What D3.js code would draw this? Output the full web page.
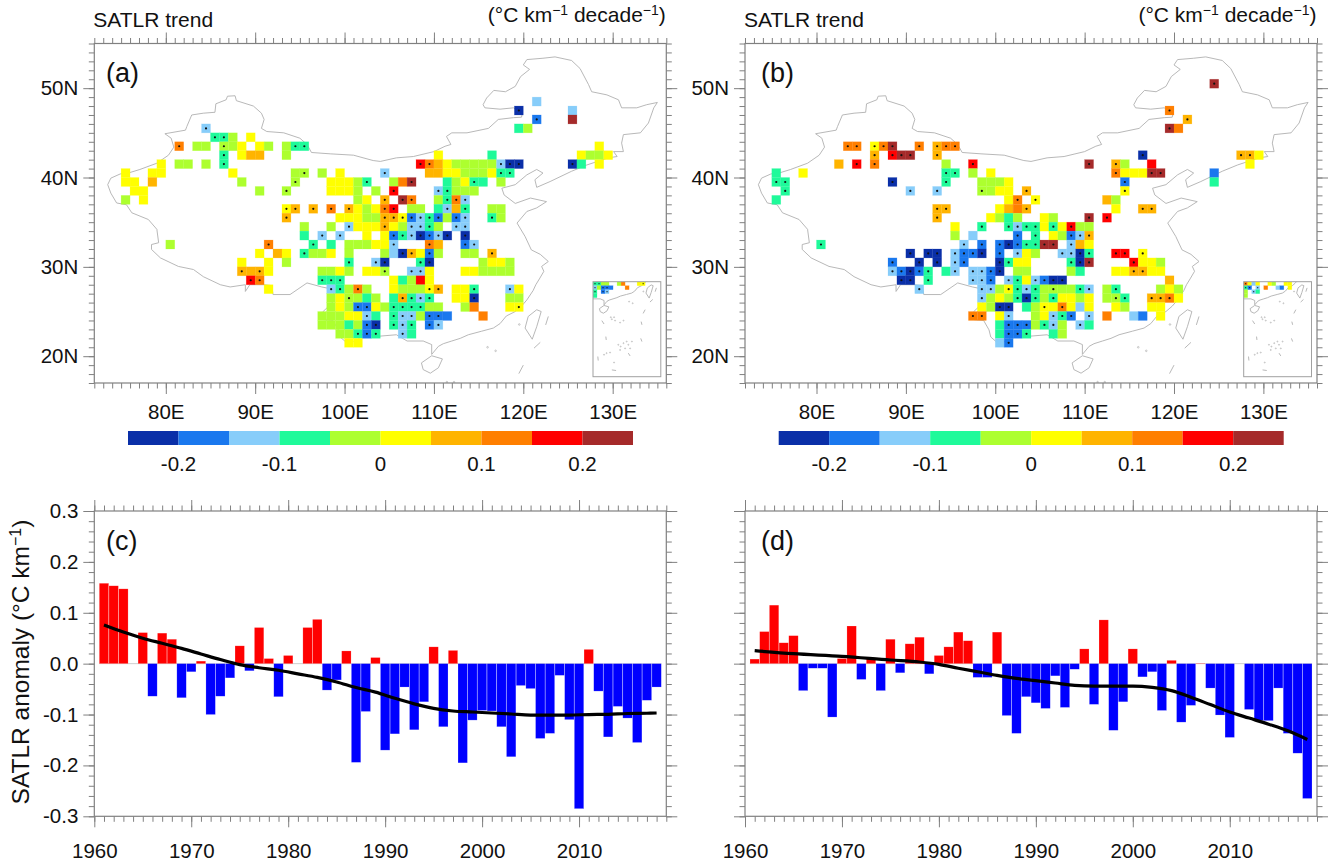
<!DOCTYPE html>
<html>
<head>
<meta charset="utf-8">
<script src="https://cdn.jsdelivr.net/npm/d3@7"></script>
<style>
  body { margin: 0; background: white; }
  svg { display: block; font-family: "Liberation Sans", Arial, sans-serif; }
  text { fill: #111; }
</style>
</head>
<body>
<svg id="chart" width="1335" height="864"></svg>
<script>
// trend classes, darkest blue (0) to brown (9)
const levelColors = ["#0a2fa8", "#1a78ee", "#87cdfa", "#1ffa9a", "#adff2f", "#ffff00", "#ffb400", "#ff7f00", "#ff0000", "#a52a2a"];
const levelEdges = [-0.25, -0.2, -0.15, -0.1, -0.05, 0, 0.05, 0.1, 0.15, 0.2, 0.25];
const levelLabels = [-0.2, -0.1, 0, 0.1, 0.2];

// grid rows: [south edge of the 1 degree cell, "lon.level"], * = significant
const rowsA = [
  [48, "121.2"],
  [47, "119.0* 125.2"],
  [46, "121.1* 125.9"],
  [45, "84.2* 119.3 120.4"],
  [44, "85.3* 86.3* 87.4 89.5"],
  [43, "81.7* 83.4 84.4 86.4* 87.4 88.5 90.5 91.4 93.4 94.3* 95.3* 128.5"],
  [42, "86.3* 88.5 89.6 90.6 93.4 110.5 116.3 126.5 127.4 128.4 129.5"],
  [41, "79.5 81.4 82.4 84.4 86.3* 108.8* 109.7* 110.6 111.5 112.4 113.4 114.4 115.4 116.4 117.2* 118.0* 119.0* 125.0* 126.3 128.5"],
  [40, "75.5 78.5 79.5 87.5 94.4 95.4* 97.4 99.5 104.2* 109.6 110.6 111.5 112.5 113.4 114.4 115.4 116.5 117.3* 118.3*"],
  [39, "75.5 76.5 78.6 88.4 94.4* 98.5 99.5 100.5 101.4 102.3* 105.4 106.7 107.9* 111.3 112.4 113.5 114.3* 115.3 117.4"],
  [38, "76.5 77.5 90.4 93.4* 98.5 99.5 100.5 101.4 103.4 105.8* 110.2* 111.3* 112.4 113.4 114.4"],
  [37, "75.4 77.5 101.4 102.5 104.6* 106.9* 107.7* 110.4 111.3* 112.7* 113.2*"],
  [36, "93.5* 94.6* 96.6* 98.7* 100.6* 101.5 102.4 103.5 104.7* 105.8* 107.4 108.4 110.3 111.2* 112.6 113.3* 116.4 117.4"],
  [35, "93.6* 99.5 100.5 101.5 102.4 103.4 104.6* 105.6* 106.5* 107.1* 108.2* 109.3* 110.1* 111.4 112.1* 113.2* 116.3* 117.4"],
  [34, "95.4 98.4 100.2* 101.5 102.5 103.5 104.6* 105.5 106.4 107.2* 108.2* 109.3* 110.4 112.2* 113.2*"],
  [33, "95.3 97.2* 99.2* 102.5 104.5 105.1* 106.3* 107.2* 108.0* 109.1* 110.2* 111.0* 113.0*"],
  [32, "80.4 91.7* 96.3* 98.3 100.4 101.4 102.4 103.5 104.5 105.2* 109.7* 110.6 113.1* 114.2*"],
  [31, "90.5 92.6 93.5 95.3* 96.4 97.4 98.5 100.4 104.4 105.2 106.0* 107.6* 108.5 109.1* 110.4 113.4 114.4 116.6*"],
  [30, "88.5 91.5 93.4 100.3* 103.2* 104.0* 108.3* 109.0* 115.4 116.5 117.5 118.4"],
  [29, "88.6* 89.6 90.6* 91.5 97.4 98.4 99.5 100.4 102.5 103.5 104.4* 107.2* 108.2* 109.5 113.5 114.5 115.4 116.4 117.4 118.4"],
  [28, "89.8* 90.7* 97.3* 98.3* 99.3* 105.5 106.3 107.4 108.8 109.5"],
  [27, "91.5 98.2* 99.3* 100.4 101.7* 102.4 105.5 106.4 107.4 108.4 109.5* 110.6* 112.5 113.5 114.3* 118.2* 119.5"],
  [26, "98.4 99.5 100.4* 101.4 102.3 103.4 105.3 106.6* 107.3* 108.2* 109.3* 112.5 113.5 114.0* 118.4 119.4"],
  [25, "98.4 99.5 100.4 101.1* 102.1* 103.5 104.4 105.3* 106.3* 107.3* 108.3* 109.4 110.4 113.4 114.7 118.5 119.5*"],
  [24, "97.4 98.4 99.4 100.5 101.5 102.2* 103.3 105.3* 106.2* 107.2* 108.4 109.1* 110.1* 111.1 115.7"],
  [23, "97.4 98.4 99.4 100.3 101.4 102.1* 103.0* 105.3* 106.2* 107.3* 109.1* 110.2*"],
  [22, "99.4 100.4 101.3* 102.1* 103.3* 106.2* 107.3"],
  [21, "100.5 101.5"]
];
const rowsB = [
  [50, "124.9*"],
  [47, "119.7*"],
  [46, "121.6*"],
  [45, "119.9* 120.7"],
  [43, "83.7* 84.7* 86.5* 87.7* 88.9* 91.7* 93.6* 94.7* 95.7*"],
  [42, "86.6* 88.8* 89.9* 90.9* 93.6* 116.0* 127.6* 128.6* 129.5"],
  [41, "82.6 84.8* 86.7* 94.4 97.8* 110.9* 113.6* 114.4 117.8 128.5"],
  [40, "75.3 78.5 94.3* 95.3* 97.4 99.5 113.7* 114.5 115.5 116.5 117.9* 118.9* 124.1"],
  [39, "75.3* 76.3* 88.0* 94.3* 98.4 99.4 100.4 101.5 114.1* 124.3"],
  [38, "76.3* 90.2* 93.2* 98.4* 99.4 100.5 101.5 103.6* 114.5*"],
  [37, "75.3 101.5 102.7* 104.5* 112.6 113.4"],
  [36, "93.6* 94.6* 100.5 101.6 102.7 103.6* 113.5 116.6* 117.6*"],
  [35, "93.6* 99.5 100.4 101.3 102.4 105.5 106.4 110.9* 112.8*"],
  [34, "95.5 98.3* 101.3* 102.2* 103.3* 104.3* 105.5 106.3* 107.5 108.8* 109.4 110.4"],
  [33, "95.4 97.2 102.1* 104.3* 106.5 107.4 108.1* 109.2* 110.6*"],
  [32, "80.3* 96.2* 98.1* 100.1* 101.0* 102.1* 103.3* 104.3* 105.9* 106.9* 108.2* 109.6 110.5"],
  [31, "90.0* 92.0* 93.0* 95.2* 96.1* 97.1* 98.0* 100.1* 102.2* 103.5 104.4 107.2* 108.2* 109.0* 110.3* 113.8* 114.8* 116.5*"],
  [30, "88.1* 91.0* 93.0* 95.2* 96.1* 100.0* 101.3* 102.5 103.5 108.3* 109.0* 110.9* 115.8* 116.5 117.5 118.4"],
  [29, "88.2* 89.1* 90.0* 91.1* 92.3* 94.3 95.2* 97.2* 98.2* 99.1* 100.0* 102.4 103.4 108.4 109.3 113.5 114.5 115.6* 116.6* 117.5 118.5"],
  [28, "89.0* 90.0* 92.3* 97.2* 98.2* 99.1* 101.2* 102.3* 103.5 104.2* 105.1* 106.0* 107.0* 119.6"],
  [27, "91.2* 98.2* 99.2* 100.4 101.5* 102.3* 103.2* 104.3* 105.4 106.4* 107.4 108.4 109.3* 110.2* 112.4 113.3* 118.4 119.5 120.4"],
  [26, "98.2* 99.4 100.5 101.4 102.3* 103.0* 104.3* 105.4 106.3* 107.5 108.5 109.4 110.5 112.4 113.4* 114.3* 117.6* 118.6* 119.7* 120.5"],
  [25, "98.5 99.4 100.0* 101.0* 103.3 104.4 105.5* 106.5 107.7* 108.5 109.2 110.5 113.5 114.4 117.5 118.5"],
  [24, "97.7* 98.7* 100.5 101.2* 104.4 105.5 106.2* 107.3* 108.1* 110.2* 112.7 115.2 116.1 118.5"],
  [23, "100.3 101.1* 102.1* 103.1* 104.4 105.3* 106.2* 107.4 109.2* 110.3"],
  [22, "100.3 101.1* 102.1* 103.3* 106.3 107.4"],
  [21, "100.2 101.1*"]
];

const chinaOutline = [
  [73.5,39.2],[73.85,39.93],[74.9,40.4],[75.8,40.5],[77.1,40.9],[79,41.6],[80.3,42.5],[80.9,43.4],[80.6,44.4],[79.9,44.9],
  [82.2,45.3],[82.35,45.7],[82.9,47],[84.2,47.2],[85.5,47.3],[85.6,48.25],[86.75,48.7],[86.9,49.1],[87.75,49.15],[87.9,48.6],
  [89.8,48],[90.7,47.2],[91,46.5],[90.7,45.5],[91.3,45.15],[93.2,45],[95,44.4],[95.8,43.7],[96.3,42.8],[98.4,42.65],
  [101,42.5],[103.2,41.9],[104,41.8],[105.8,42.2],[107.7,42.35],[110,42.9],[111.25,43.5],[111.9,43.7],[111.4,44.6],[112,45],
  [113.7,45],[116.1,45.5],[117.2,46.5],[118.9,46.7],[119.8,46.75],[119.9,47.2],[118.9,47.8],[117.4,47.65],[115.7,47.8],[115.5,48.15],
  [115.9,48.9],[116.7,49.75],[118,49.6],[119.1,50.2],[119.7,51.3],[120.7,52.1],[120,52.6],[120.4,53.2],[122.2,53.35],[123.55,53.5],
  [125.4,53.1],[126.35,52.2],[127.3,50.4],[127.65,49.6],[129.35,49.25],[130.65,48.7],[131,47.8],[132.7,47.8],[133.8,48.15],[135,48.4],
  [134.6,47.8],[134,46.1],[133.1,45],[131.2,44.8],[131,43.85],[131.2,42.9],[130.1,42.9],[130.5,42.35],[129.5,42.2],[127.1,41.4],
  [125.4,40.7],[123,39.55],[121.5,38.9],[121.3,39.75],[122.2,40.5],[121.5,40.9],[120.4,40.3],[119.1,39.2],[117.6,38.8],[117.85,38.05],
  [119.1,37.1],[120.8,37.7],[122.6,37.3],[121.5,36.6],[120.4,36.2],[119.3,34.9],[120.2,33.4],[120.9,31.9],[121.9,31.4],[122.8,30.6],
  [122.05,30.05],[122.3,29.5],[121.8,28.65],[121.4,28],[121.1,27.35],[120.4,26.3],[119.8,25.6],[119.1,25],[118.1,24.5],[117.4,23.65],
  [116.65,23.15],[115.35,22.8],[113.85,22.4],[112.95,22],[112,21.7],[111.05,21.4],[110.5,21.1],[109.75,20.2],
  [109.75,21.3],[108.8,21.7],[107,21.7],[105.8,22.4],[104,22.25],[103,22.4],[101.55,22.4],[101.75,21.2],[101,21.65],[100.25,21.5],
  [99.5,22.15],[99.3,22.95],[98.7,24],[97.6,24.1],[97.6,25],[98.6,25.95],[98.9,27.45],[97.45,27.75],[95.8,28.2],[93.9,26.9],
  [92,26.9],[91.85,27.9],[90.9,28],[89.4,28],[88.9,27.25],[88.9,28],[87.2,27.75],[86.1,28],[84.2,28.9],[83.1,29.7],
  [81.4,30.05],[79.4,31],[78.4,31.95],[78.4,32.5],[79.2,32.7],[79,34.2],[78.05,35.3],[76.2,36.05],[75.6,36.95],[74.5,37.15],
  [73.85,38.25],[73.5,39.2]
];
const hainan = [[108.6,19.25],[109.75,20.05],[110.95,19.7],[110.5,18.7],[109.6,18.1],[108.8,18.5],[108.6,19.25]];
const taiwan = [[121.5,25.2],[122,25],[121.5,23.3],[121,21.9],[120.2,23.15],[120.55,24.45],[121.5,25.2]];
const dashes = [
  [[122.5,23.5],[122.8,24.45]], [[121.2,20.9],[121.9,21.55]], [[119.5,18.05],[120,19]],
  [[109.2,16.25],[109.75,15.4]], [[110.2,12.25],[110.3,11.4]], [[108.2,7.25],[108.3,6.25]],
  [[111.7,3.9],[112.75,3.75]], [[115.8,8.1],[116.25,7.4]], [[118.9,11.8],[119.2,11]], [[119,16],[119.2,15.2]]
];
const islands = [
  [119.55,23.55],[116,21],[116.9,20.6],[111.45,17.1],[111.7,16.6],[112.25,17.1],[112.5,16.25],[113.75,15.75],[114.6,16.25],
  [113.9,9.75],[114.6,10.6],[115.4,11],[115.8,10.2],[116.7,11],[115,9.3],[113.75,8.9],[113.3,10.2],[116.25,9.3],
  [110.4,8.1],[111.25,8.25],[109.75,7.7],[112.25,5.75]
];

const years = d3.range(1961, 2019);
const barsC = [
  0.158, 0.153, 0.147, 0, 0.061, -0.064, 0.060, 0.048, -0.067, -0.016,
  0.005, -0.100, -0.064, -0.028, 0.035, -0.014, 0.071, 0.010, -0.065, 0.016,
  0, 0.071, 0.087, -0.052, -0.032, 0.025, -0.194, -0.094, 0.012, -0.170,
  -0.138, -0.046, -0.130, -0.075, 0.033, -0.124, 0.026, -0.195, -0.111, -0.092,
  -0.093, -0.124, -0.183, -0.043, -0.049, -0.147, -0.137, -0.023, -0.110, -0.285,
  0.028, -0.054, -0.144, -0.084, -0.107, -0.155, -0.072, -0.046
];
const barsD = [
  0.009, 0.063, 0.115, 0.041, 0.055, -0.053, -0.009, -0.009, -0.105, 0.010,
  0.074, -0.031, 0.010, -0.053, 0.048, -0.018, 0.039, 0.052, -0.020, 0.016,
  0.033, 0.062, 0.045, -0.027, -0.027, 0.062, -0.102, -0.137, -0.065, -0.077,
  -0.088, -0.024, -0.086, -0.011, 0.029, -0.080, 0.086, -0.131, -0.075, 0.029,
  -0.026, -0.016, -0.092, 0.0065, -0.115, -0.082, 0.0007, -0.048, -0.101, -0.145,
  0, -0.090, -0.112, -0.112, -0.048, -0.137, -0.176, -0.265
];
const trendYearsC = [1961,1963,1965,1967,1969,1971,1973,1975,1977,1979,1981,1983,1985,1987,1989,1991,1993,1995,1997,1999,2001,2003,2005,2007,2009,2011,2013,2015,2017,2018];
const trendC = [0.076,0.062,0.050,0.040,0.030,0.019,0.008,-0.002,-0.008,-0.013,-0.020,-0.027,-0.036,-0.047,-0.056,-0.068,-0.079,-0.088,-0.093,-0.095,-0.097,-0.099,-0.101,-0.101,-0.101,-0.100,-0.0995,-0.098,-0.0975,-0.097];
const trendYearsD = [1961,1965,1970,1975,1978,1980,1982,1984,1986,1988,1990,1992,1994,1996,1998,2000,2002,2004,2006,2008,2010,2012,2014,2016,2018];
const trendD = [0.0255,0.0196,0.0144,0.0072,0.0033,-0.0013,-0.009,-0.016,-0.023,-0.029,-0.0334,-0.038,-0.0426,-0.044,-0.044,-0.044,-0.0465,-0.053,-0.066,-0.0805,-0.095,-0.107,-0.119,-0.132,-0.149];

const lonTicks = [80, 90, 100, 110, 120, 130];
const latTicks = [20, 30, 40, 50];
const yearTicks = [1960, 1970, 1980, 1990, 2000, 2010];
const anomalyTicks = [-0.3, -0.2, -0.1, 0, 0.1, 0.2, 0.3];

const axisColor = "#808080";
const coastColor = "#b0b0b0";
const svg = d3.select("#chart");

function parseRows(rows) {
  const cells = [];
  rows.forEach(([lat, row]) => {
    row.split(" ").forEach(tok => {
      const [lon, lev] = tok.split(".");
      cells.push({ lon: +lon, lat: lat, level: parseInt(lev), sig: lev.includes("*") });
    });
  });
  return cells;
}

// box with major + minor ticks on all four sides, labels only left/bottom
function drawFrame(g, x, y, o) {
  const [x0, x1] = x.range(), [y1, y0] = y.range();
  const sides = [
    [d3.axisBottom(x), `translate(0,${y1})`, o.xMajor, o.xMinor, o.xLabel, o.xPad],
    [d3.axisTop(x), `translate(0,${y0})`, o.xMajor, o.xMinor, null, 0],
    [d3.axisLeft(y), `translate(${x0},0)`, o.yMajor, o.yMinor, o.yLabel, 5],
    [d3.axisRight(y), `translate(${x1},0)`, o.yMajor, o.yMinor, null, 0]
  ];
  sides.forEach(([axis, tr, major, minor, label, pad]) => {
    const gMinor = g.append("g").attr("transform", tr).call(axis.tickValues(minor).tickSize(5.5).tickFormat(""));
    const gMajor = g.append("g").attr("transform", tr)
      .call(axis.tickValues(major).tickSize(11).tickPadding(pad).tickFormat(label || (() => "")));
    [gMinor, gMajor].forEach(a => {
      a.select(".domain").remove();
      a.selectAll("line").attr("stroke", axisColor).attr("stroke-width", 1);
      a.selectAll("text").attr("font-size", 20.5).attr("font-family", "Liberation Sans").attr("fill", "#111");
    });
  });
  g.append("rect").attr("x", x0).attr("y", y0).attr("width", x1 - x0).attr("height", y1 - y0)
    .attr("fill", "none").attr("stroke", axisColor).attr("stroke-width", 1.2);
}

function drawGeo(g, x, y, dotR) {
  const line = d3.line().x(d => x(d[0])).y(d => y(d[1]));
  [chinaOutline, hainan, taiwan].concat(dashes).forEach(p => {
    g.append("path").attr("d", line(p)).attr("fill", "none")
      .attr("stroke", coastColor).attr("stroke-width", 0.9).attr("stroke-linejoin", "round");
  });
  g.selectAll(".isl").data(islands).enter().append("circle").attr("class", "isl")
    .attr("cx", d => x(d[0])).attr("cy", d => y(d[1])).attr("r", dotR)
    .attr("fill", "none").attr("stroke", coastColor).attr("stroke-width", 0.7);
}

function drawCells(g, x, y, cells, dotR) {
  g.selectAll(".cell").data(cells).enter().append("rect").attr("class", "cell")
    .attr("x", d => x(d.lon)).attr("y", d => y(d.lat + 1))
    .attr("width", d => x(d.lon + 1) - x(d.lon)).attr("height", d => y(d.lat) - y(d.lat + 1))
    .attr("fill", d => levelColors[d.level])
    .attr("stroke", d => levelColors[d.level]).attr("stroke-opacity", 0.3).attr("stroke-width", 0.6);
  g.selectAll(".sig").data(cells.filter(d => d.sig)).enter().append("circle").attr("class", "sig")
    .attr("cx", d => x(d.lon + 0.5)).attr("cy", d => y(d.lat + 0.5)).attr("r", dotR).attr("fill", "#111");
}

function drawMap(left, rows, label, labelX, id) {
  const g = svg.append("g");
  const x = d3.scaleLinear().domain([72, 136]).range([left, left + 572]);
  const y = d3.scaleLinear().domain([17, 55]).range([383, 43.5]);
  const cells = parseRows(rows);

  // keeps the far-south dashes and islands inside the frame
  g.append("clipPath").attr("id", "main-" + id).append("rect")
    .attr("x", left).attr("y", 43.5).attr("width", 572).attr("height", 339.5);
  const main = g.append("g").attr("clip-path", `url(#main-${id})`);
  drawGeo(main, x, y, 0.8);
  drawCells(main, x, y, cells, 1.1);
  drawFrame(g, x, y, {
    xMajor: lonTicks, xMinor: d3.range(72, 137), xLabel: d => d + "E", xPad: 10,
    yMajor: latTicks, yMinor: d3.range(17, 56), yLabel: d => d + "N"
  });

  // South China Sea inset, same grid at a smaller scale
  const ix = d3.scaleLinear().domain([107, 123.9]).range([left + 498.7, left + 566.5]);
  const iy = d3.scaleLinear().domain([2.2, 26]).range([376.7, 281.7]);
  g.append("clipPath").attr("id", "inset-" + id).append("rect")
    .attr("x", ix(107)).attr("y", iy(26)).attr("width", ix(123.9) - ix(107)).attr("height", iy(2.2) - iy(26));
  g.append("rect").attr("x", ix(107)).attr("y", iy(26)).attr("width", ix(123.9) - ix(107)).attr("height", iy(2.2) - iy(26))
    .attr("fill", "white");
  const inset = g.append("g").attr("clip-path", `url(#inset-${id})`);
  drawGeo(inset, ix, iy, 0.5);
  drawCells(inset, ix, iy, cells.filter(d => d.lat < 26 && d.lon >= 107), 0.6);
  g.append("rect").attr("x", ix(107)).attr("y", iy(26)).attr("width", ix(123.9) - ix(107)).attr("height", iy(2.2) - iy(26))
    .attr("fill", "none").attr("stroke", "#a0a0a0").attr("stroke-width", 1);

  g.append("text").attr("x", labelX).attr("y", 81.5).attr("font-size", 27).text(label);
  g.append("text").attr("x", left - 1).attr("y", 27).attr("font-size", 21).text("SATLR trend");
  const unit = g.append("text").attr("x", left + 571.5).attr("y", 22).attr("text-anchor", "end").attr("font-size", 21);
  unit.append("tspan").text("(°C km");
  unit.append("tspan").attr("dy", -7).attr("font-size", 14).text("−1");
  unit.append("tspan").attr("dy", 7).text(" decade");
  unit.append("tspan").attr("dy", -7).attr("font-size", 14).text("−1");
  unit.append("tspan").attr("dy", 7).text(")");

  // colour bar
  const c = d3.scaleLinear().domain([-0.25, 0.25]).range([left + 33.7, left + 538.7]);
  g.selectAll(".bar-box").data(levelColors).enter().append("rect").attr("class", "bar-box")
    .attr("x", (d, i) => c(levelEdges[i])).attr("y", 431)
    .attr("width", (d, i) => c(levelEdges[i + 1]) - c(levelEdges[i])).attr("height", 14)
    .attr("fill", d => d);
  g.selectAll(".bar-label").data(levelLabels).enter().append("text").attr("class", "bar-label")
    .attr("x", d => c(d)).attr("y", 471).attr("text-anchor", "middle").attr("font-size", 20.5)
    .text(d => String(d));
}

function drawBars(left, values, trendYears, trend, label, labelX, showY) {
  const g = svg.append("g");
  const x = d3.scaleLinear().domain([1960, 2019]).range([left, left + 572]);
  const y = d3.scaleLinear().domain([-0.3, 0.3]).range([816.3, 511]);
  const bw = x(1961) - x(1960);
  g.append("line").attr("x1", x(1960.5)).attr("x2", x(2018.5)).attr("y1", y(0)).attr("y2", y(0))
    .attr("stroke", "#cfcfcf").attr("stroke-width", 1);
  g.selectAll(".bar").data(years.map((yr, i) => ({ yr, v: values[i] })).filter(d => d.v !== 0)).enter()
    .append("rect").attr("class", "bar")
    .attr("x", d => x(d.yr) - bw / 2 + 0.15).attr("width", bw - 0.3)
    .attr("y", d => y(Math.max(0, d.v))).attr("height", d => Math.abs(y(d.v) - y(0)))
    .attr("fill", d => d.v > 0 ? "#ff0000" : "#0000ff")
    .attr("stroke", "#ffffff").attr("stroke-opacity", 0.35).attr("stroke-width", 0.5);
  const line = d3.line().x((d, i) => x(trendYears[i])).y(d => y(d)).curve(d3.curveMonotoneX);
  g.append("path").attr("d", line(trend)).attr("fill", "none").attr("stroke", "#000").attr("stroke-width", 3.2);
  drawFrame(g, x, y, {
    xMajor: yearTicks, xMinor: d3.range(1960, 2020), xLabel: d => String(d), xPad: 16.5,
    yMajor: anomalyTicks, yMinor: d3.range(-15, 16).map(d => d * 0.02),
    yLabel: showY ? (d => d.toFixed(1)) : null
  });
  g.append("text").attr("x", labelX).attr("y", 550).attr("font-size", 27).text(label);
}

drawMap(94.3, rowsA, "(a)", 106, "a");
drawMap(745, rowsB, "(b)", 761, "b");
drawBars(94.3, barsC, trendYearsC, trendC, "(c)", 106, true);
drawBars(745, barsD, trendYearsD, trendD, "(d)", 761, false);

const yTitle = svg.append("text").attr("transform", "translate(29.3,662) rotate(-90)")
  .attr("text-anchor", "middle").attr("font-size", 24.5);
yTitle.append("tspan").text("SATLR anomaly (°C km");
yTitle.append("tspan").attr("dy", -8).attr("font-size", 16).text("−1");
yTitle.append("tspan").attr("dy", 8).text(")");
</script>
</body>
</html>
